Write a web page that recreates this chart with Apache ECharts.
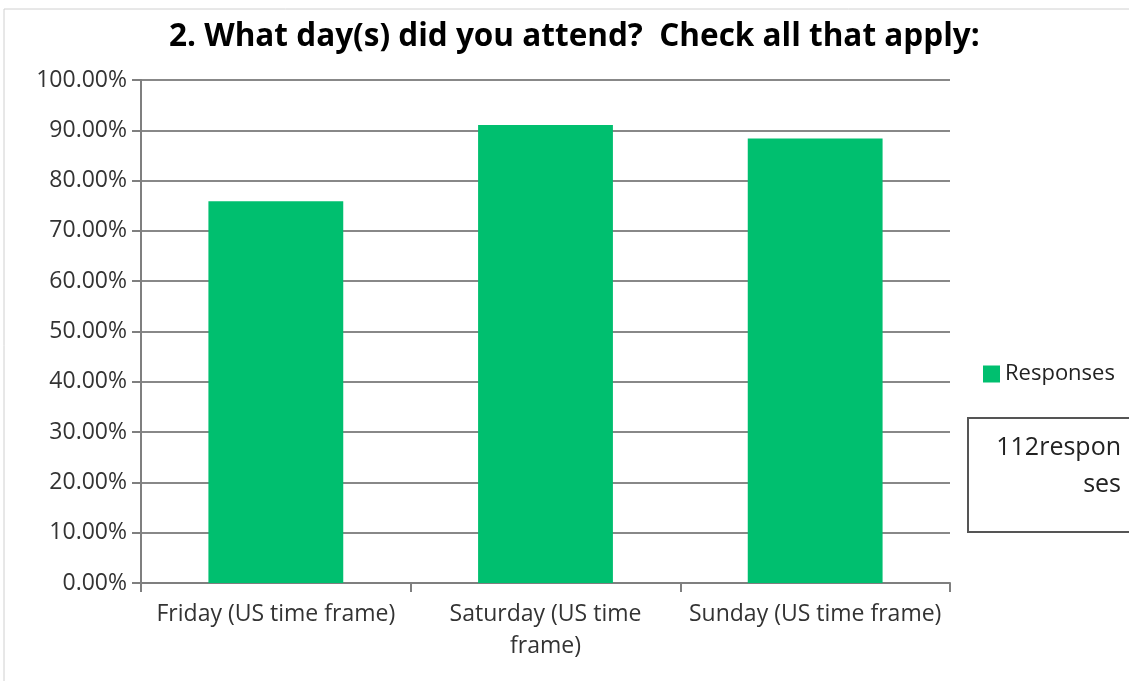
<!DOCTYPE html>
<html>
<head>
<meta charset="utf-8">
<script src="https://cdn.jsdelivr.net/npm/echarts@6/dist/echarts.min.js"></script>
<style>
  html, body { margin: 0; padding: 0; background: #fff; }
  #chart { width: 1129px; height: 681px; }
</style>
</head>
<body>
<div id="chart"></div>
<script>
// categories and values (percent of 112 responses)
var categories = ['Friday (US time frame)', 'Saturday (US time\nframe)', 'Sunday (US time frame)']
var responses = [75.89, 91.07, 88.39]
var yTicks = [0, 10, 20, 30, 40, 50, 60, 70, 80, 90, 100]

var font = 'Open Sans'
var ele = document.getElementById('chart')
var myChart = echarts.init(ele)

var option = {
  animation: false,
  title: {
    text: '2. What day(s) did you attend?  Check all that apply:',
    left: 164,
    top: 16,
    textStyle: { fontFamily: font, fontSize: 31.5, fontWeight: 'bold', color: '#000' }
  },
  legend: {
    data: ['Responses'],
    icon: 'rect',
    left: 978,
    top: 358,
    itemWidth: 17,
    itemHeight: 17,
    itemGap: 6,
    textStyle: { fontFamily: font, fontSize: 22, color: '#222' }
  },
  grid: { left: 141, right: 179, top: 80, bottom: 98 },
  xAxis: {
    type: 'category',
    data: categories,
    axisLine: { lineStyle: { color: '#7f7f7f', width: 2 } },
    axisTick: { show: true, length: 9, lineStyle: { color: '#7f7f7f', width: 2 } },
    axisLabel: {
      fontFamily: font, fontSize: 23, color: '#333', margin: 15, lineHeight: 32, interval: 0
    }
  },
  yAxis: {
    type: 'value',
    min: yTicks[0],
    max: yTicks[yTicks.length - 1],
    interval: 10,
    axisLine: { show: true, lineStyle: { color: '#7f7f7f', width: 2 } },
    axisTick: { show: true, length: 9, lineStyle: { color: '#7f7f7f', width: 2 } },
    splitLine: { lineStyle: { color: '#888', width: 2 } },
    axisLabel: {
      fontFamily: font, fontSize: 23, color: '#333', margin: 14,
      formatter: function (v) { return v.toFixed(2) + '%' }
    }
  },
  series: [{
    name: 'Responses',
    type: 'bar',
    data: responses,
    barWidth: '50%',
    itemStyle: { color: '#00bf6f' }
  }],
  graphic: [
    {
      type: 'rect',
      shape: { x: 4, y: 9, width: 1200, height: 720 },
      style: { fill: 'none', stroke: '#d0d0d0', lineWidth: 1 },
      z: -1
    },
    {
      type: 'rect',
      shape: { x: 968, y: 418, width: 200, height: 114 },
      style: { fill: '#fff', stroke: '#555', lineWidth: 2 }
    },
    {
      type: 'text',
      x: 1121,
      y: 429,
      style: {
        text: '112respon\nses', fontFamily: font, fontSize: 25, fill: '#222',
        align: 'right', verticalAlign: 'top', lineHeight: 37
      }
    }
  ]
}
myChart.setOption(option)
</script>
</body>
</html>
